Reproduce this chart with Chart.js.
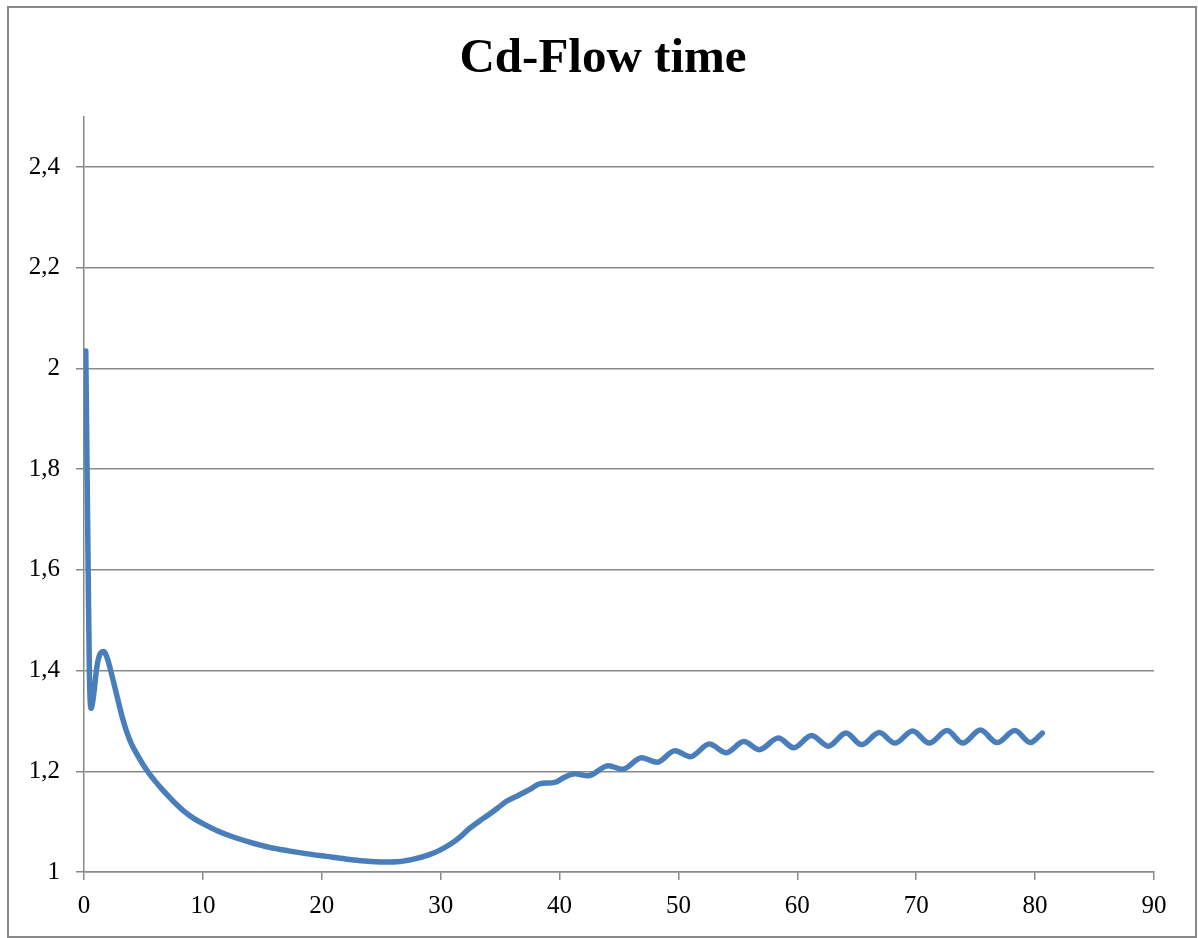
<!DOCTYPE html>
<html>
<head>
<meta charset="utf-8">
<title>Cd-Flow time</title>
<script src="https://cdn.jsdelivr.net/npm/chart.js@4/dist/chart.umd.min.js"></script>
<style>
    html, body { margin: 0; padding: 0; background: #fff; }
    canvas { display: block; }
</style>
</head>
<body>
<canvas id="cdChart" width="1198" height="938"></canvas>
<script>
// Drag coefficient against flow time
var flowTime = [
    0.15, 0.35, 0.45, 0.6, 0.8, 1.1, 1.4, 1.65, 1.95, 2.3,
    2.8, 3.2, 3.6, 4.0, 4.5, 5.0, 5.5, 6.0, 6.5, 7.0,
    7.7, 8.4, 9.2, 10, 11.2, 12.5, 14.0, 15.6, 17.2, 18.8,
    20.4, 22.0, 23.6, 25.2, 26.6, 27.8, 29.0, 29.9, 30.8, 31.6,
    32.4, 33.3, 34.0, 34.8, 35.5, 36.6, 37.5, 38.3, 39.6, 40.4,
    41.3, 42.4, 44.1, 45.3, 46.9, 48.2, 49.7, 51.0, 52.6, 54.0,
    55.5, 56.8, 58.4, 59.7, 61.2, 62.6, 64.1, 65.4, 66.9, 68.2,
    69.7, 71.1, 72.6, 73.9, 75.4, 76.8, 78.3, 79.6, 80.6
];
var cdValues = [
    2.035, 1.60, 1.40, 1.325, 1.35, 1.41, 1.435, 1.438, 1.425, 1.395,
    1.347, 1.309, 1.278, 1.254, 1.232, 1.212, 1.195, 1.180, 1.166, 1.153,
    1.136, 1.121, 1.107, 1.096, 1.082, 1.070, 1.059, 1.049, 1.042, 1.036,
    1.031, 1.026, 1.022, 1.020, 1.021, 1.026, 1.034, 1.043, 1.055, 1.069,
    1.086, 1.102, 1.113, 1.127, 1.140, 1.153, 1.164, 1.175, 1.178, 1.188,
    1.195, 1.191, 1.211, 1.204, 1.227, 1.218, 1.241, 1.229, 1.254, 1.237,
    1.259, 1.243, 1.266, 1.247, 1.271, 1.250, 1.276, 1.253, 1.277, 1.256,
    1.280, 1.256, 1.281, 1.256, 1.282, 1.257, 1.281, 1.257, 1.276
];
var yTicks = [1, 1.2, 1.4, 1.6, 1.8, 2, 2.2, 2.4];
var xTicks = [0, 10, 20, 30, 40, 50, 60, 70, 80, 90];

var gridGray = '#898989';
var labelFont = { family: '"Liberation Serif", serif', size: 25 };

var points = flowTime.map(function(t, i) {
    return { x: t, y: cdValues[i] };
});

// white page with a thin gray frame round the whole chart
var framePlugin = {
    id: 'frame',
    beforeDraw: function(chart) {
        var ctx = chart.ctx;
        ctx.save();
        ctx.fillStyle = '#ffffff';
        ctx.fillRect(0, 0, chart.width, chart.height);
        ctx.strokeStyle = gridGray;
        ctx.lineWidth = 2;
        ctx.strokeRect(8, 7, chart.width - 10, chart.height - 8);
        ctx.restore();
    }
};

new Chart(document.getElementById('cdChart'), {
    type: 'line',
    data: {
        datasets: [{
            label: 'Cd',
            data: points,
            yAxisID: 'y',
            borderColor: '#4a7ebb',
            borderWidth: 5.5,
            pointRadius: 0,
            fill: false,
            cubicInterpolationMode: 'monotone',
            borderCapStyle: 'round',
            borderJoinStyle: 'round'
        }]
    },
    options: {
        responsive: false,
        devicePixelRatio: 1,
        animation: false,
        layout: { padding: { left: 8, right: 0, top: 0, bottom: 0 } },
        plugins: {
            legend: { display: false },
            tooltip: { enabled: false },
            title: {
                display: true,
                text: 'Cd-Flow time',
                color: '#000',
                font: { family: '"Liberation Serif", serif', size: 49, weight: 'bold' },
                padding: { top: 30, bottom: 28 }
            }
        },
        scales: {
            x: {
                type: 'linear',
                min: 0,
                max: 90,
                afterBuildTicks: function(axis) {
                    axis.ticks = xTicks.map(function(v) { return { value: v }; });
                },
                afterFit: function(scale) { scale.height = 66; },
                grid: {
                    drawOnChartArea: false,
                    drawTicks: true,
                    tickLength: 8,
                    color: gridGray,
                    lineWidth: 1.5
                },
                border: { display: true, color: gridGray, width: 1.5 },
                ticks: {
                    color: '#000',
                    font: labelFont,
                    padding: 11,
                    maxRotation: 0,
                    autoSkip: false
                }
            },
            y: {
                type: 'linear',
                position: 'left',
                min: 1,
                max: 2.5,
                afterBuildTicks: function(axis) {
                    axis.ticks = yTicks.map(function(v) { return { value: v }; });
                },
                afterFit: function(scale) { scale.width = 76; },
                grid: {
                    drawTicks: true,
                    tickLength: 8,
                    color: gridGray,
                    lineWidth: 1.5
                },
                border: { display: true, color: gridGray, width: 1.5 },
                ticks: {
                    color: '#000',
                    font: labelFont,
                    padding: 16,
                    autoSkip: false,
                    callback: function(value) {
                        return String(Math.round(value * 10) / 10).replace('.', ',');
                    }
                }
            },
            // empty strip on the right so the plot ends before the frame
            yRight: {
                type: 'linear',
                position: 'right',
                min: 1,
                max: 2.5,
                afterFit: function(scale) { scale.width = 44; },
                grid: { display: false },
                border: { display: false },
                ticks: { display: false }
            }
        }
    },
    plugins: [framePlugin]
});
</script>
</body>
</html>
